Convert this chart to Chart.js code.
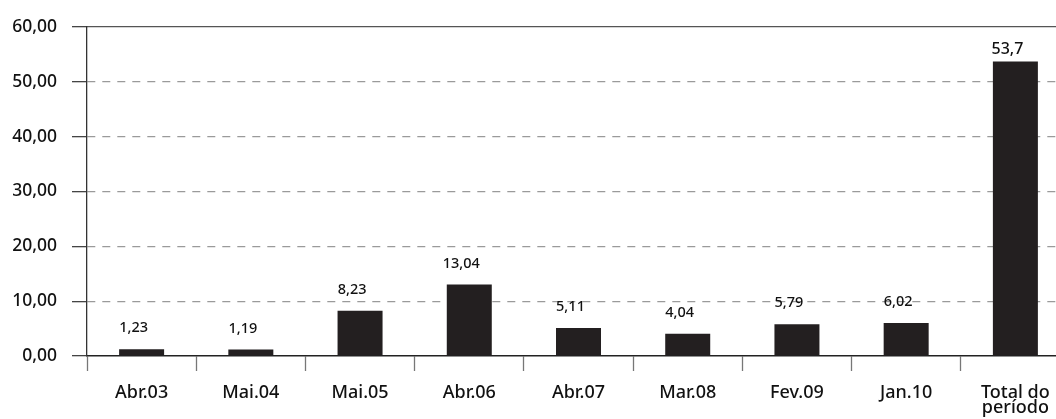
<!DOCTYPE html>
<html>
<head>
<meta charset="utf-8">
<script src="https://cdn.jsdelivr.net/npm/chart.js@4.4.1/dist/chart.umd.min.js"></script>
<style>
  html, body { margin: 0; padding: 0; background: #fff; overflow: hidden; }
  #wrap { position: relative; width: 1070px; height: 419px; }
</style>
</head>
<body>
<div id="wrap"><canvas id="chart"></canvas></div>
<script>
// Categories (periods) and values
const categories = ['Abr.03', 'Mai.04', 'Mai.05', 'Abr.06', 'Abr.07', 'Mar.08', 'Fev.09', 'Jan.10', ['Total do', 'período']];
const values = [1.23, 1.19, 8.23, 13.04, 5.11, 4.04, 5.79, 6.02, 53.7];
const yTicks = [0, 10, 20, 30, 40, 50, 60];

const FONT = "'Noto Sans', 'Open Sans', sans-serif";
const fmtComma = (v, d) => (d === undefined ? String(v) : v.toFixed(d)).replace('.', ',');

// Value labels above each bar
const valueLabels = {
  id: 'valueLabels',
  afterDatasetsDraw(chart) {
    const ctx = chart.ctx;
    const meta = chart.getDatasetMeta(0);
    const last = values.length - 1;
    ctx.save();
    ctx.fillStyle = '#111';
    ctx.textAlign = 'center';
    ctx.textBaseline = 'middle';
    meta.data.forEach((bar, i) => {
      const big = i === last;
      ctx.font = '500 ' + (big ? 16 : 14.5) + 'px ' + FONT;
      ctx.fillText(fmtComma(values[i]), bar.x - 8, bar.y - (big ? 12 : 21));
    });
    ctx.restore();
  }
};

new Chart(document.getElementById('chart'), {
  type: 'bar',
  data: {
    labels: categories,
    datasets: [{
      data: values,
      backgroundColor: '#231f20',
      borderWidth: 0,
      categoryPercentage: 1,
      barPercentage: 0.412
    }]
  },
  options: {
    responsive: true,
    maintainAspectRatio: false,
    animation: false,
    layout: { padding: { top: 19, right: 0, bottom: 0, left: 0 } },
    plugins: { legend: { display: false }, tooltip: { enabled: false } },
    scales: {
      x: {
        type: 'category',
        position: 'bottom',
        offset: true,
        grid: {
          offset: true,
          drawOnChartArea: false,
          drawTicks: true,
          tickLength: 15,
          tickColor: '#777',
          tickWidth: 1.3
        },
        border: { display: true, color: '#222', width: 1.5 },
        ticks: {
          color: '#111',
          font: { family: FONT, size: 18, weight: '500', lineHeight: 0.85 },
          padding: 14,
          maxRotation: 0,
          autoSkip: false
        },
        afterFit(scale) { scale.height = 63; }
      },
      xTop: {
        type: 'category',
        position: 'top',
        labels: categories,
        grid: { display: false },
        ticks: { display: false },
        border: { display: true, color: '#555', width: 1.3 }
      },
      y: {
        min: 0,
        max: 60,
        afterBuildTicks(scale) { scale.ticks = yTicks.map(v => ({ value: v })); },
        grid: {
          color: ctx => (ctx.tick && (ctx.tick.value === 60 || ctx.tick.value === 0)) ? 'rgba(0,0,0,0)' : '#9a9a9a',
          lineWidth: 1.3,
          drawTicks: true,
          tickLength: 15,
          tickColor: '#444',
          tickWidth: 1.3
        },
        border: { display: true, color: '#333', width: 1.3, dash: [8, 7] },
        ticks: {
          color: '#111',
          font: { family: FONT, size: 17.5, weight: '500' },
          padding: 15,
          callback: v => fmtComma(v, 2)
        },
        afterFit(scale) { scale.width = 87; }
      }
    }
  },
  plugins: [valueLabels]
});
</script>
</body>
</html>
